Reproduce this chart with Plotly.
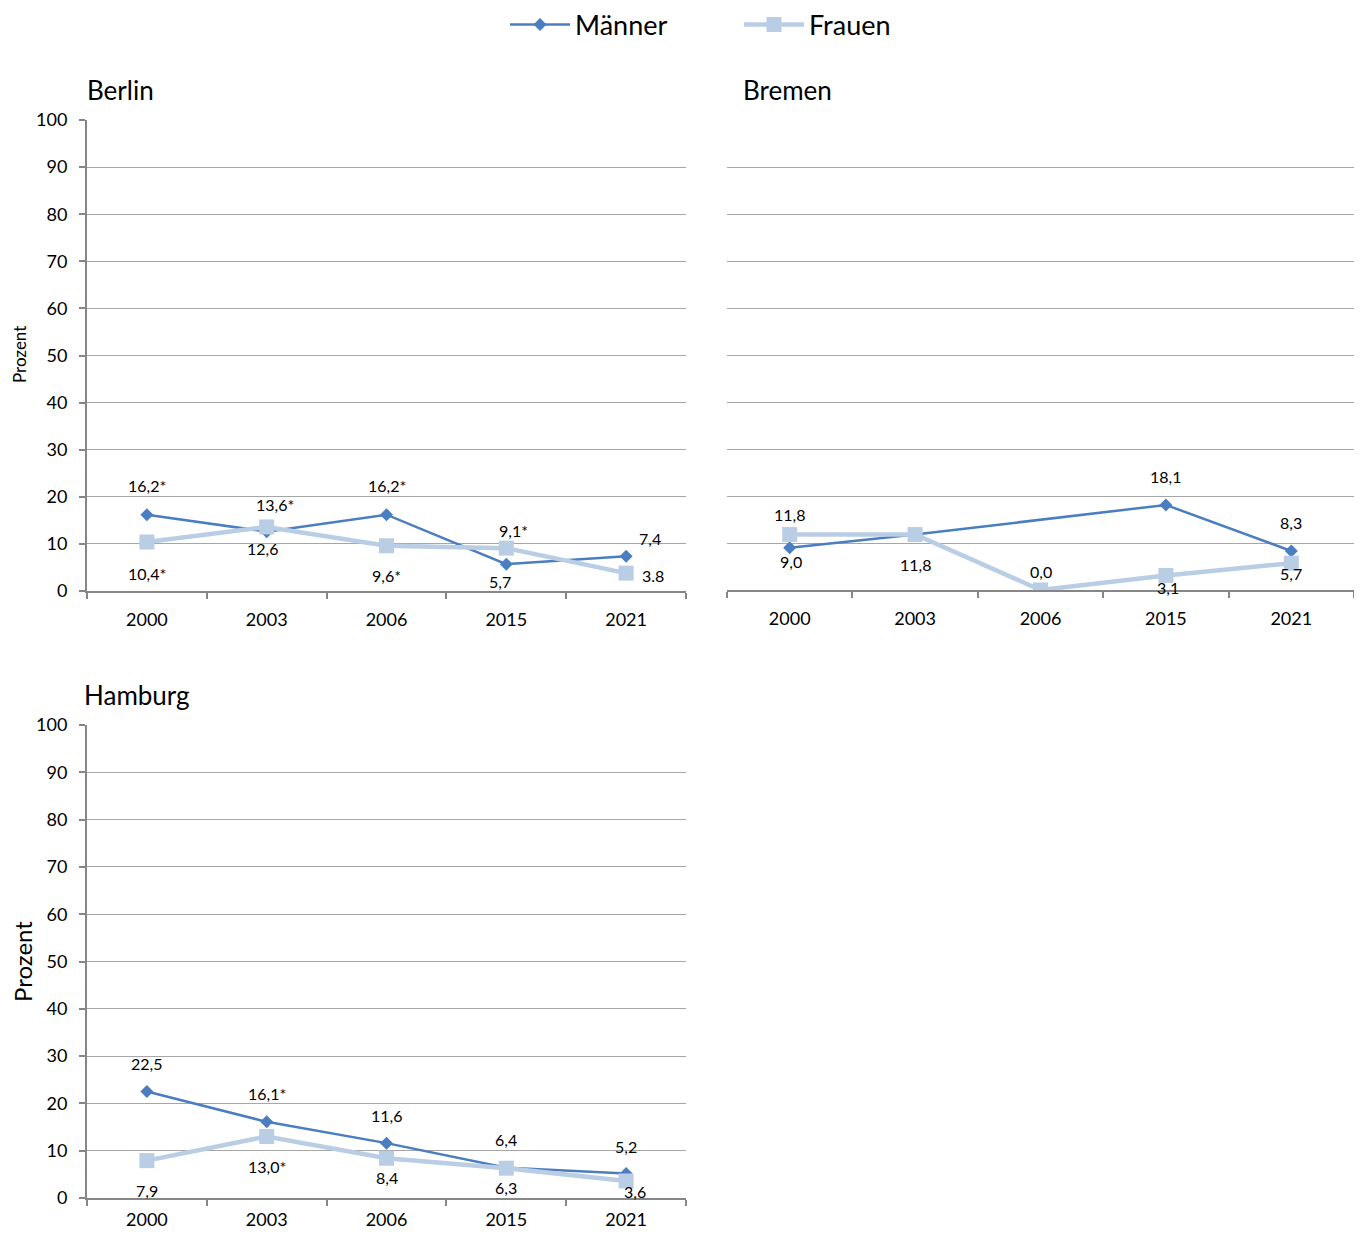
import plotly.graph_objects as go

years = ["2000", "2003", "2006", "2015", "2021"]

berlin_m = [16.2, 12.6, 16.2, 5.7, 7.4]
berlin_f = [10.4, 13.6, 9.6, 9.1, 3.8]
berlin_m_lbl = ["16,2*", "12,6", "16,2*", "5,7", "7,4"]
berlin_f_lbl = ["10,4*", "13,6*", "9,6*", "9,1*", "3.8"]

bremen_m = [9.0, 11.8, None, 18.1, 8.3]
bremen_f = [11.8, 11.8, 0.0, 3.1, 5.7]
bremen_m_lbl = ["9,0", "11,8", "", "18,1", "8,3"]
bremen_f_lbl = ["11,8", "", "0,0", "3,1", "5,7"]

hamburg_m = [22.5, 16.1, 11.6, 6.4, 5.2]
hamburg_f = [7.9, 13.0, 8.4, 6.3, 3.6]
hamburg_m_lbl = ["22,5", "16,1*", "11,6", "6,4", "5,2"]
hamburg_f_lbl = ["7,9", "13,0*", "8,4", "6,3", "3,6"]

# label offsets (dx, dy in px; dy positive = down)
berlin_m_off = [(0, -29), (-4, 17), (0, -29), (-6, 17), (24, -18)]
berlin_f_off = [(0, 31), (8, -22), (0, 30), (7, -18), (27, 2)]
bremen_m_off = [(1, 14), (0, 30), (0, 0), (0, -28), (0, -28)]
bremen_f_off = [(0, -20), (0, 30), (0, -19), (2, 12), (0, 10)]
hamburg_m_off = [(0, -28), (0, -28), (0, -28), (0, -28), (0, -27)]
hamburg_f_off = [(0, 30), (0, 30), (0, 19), (0, 19), (9, 11)]

C_M = "rgb(74,126,193)"
C_F = "rgb(185,205,229)"
FONT = "Lato"
W, H = 1346, 1220
OFFX, OFFY = 8, 8  # where the figure sits in the page

def px_x(p):
    return min(1.0, max(0.0, (p - OFFX) / W))

def px_y(p):
    return min(1.0, max(0.0, 1 - (p - OFFY) / H))

fig = go.Figure()

panels = [
    ("x", "y", berlin_m, berlin_f, berlin_m_lbl, berlin_f_lbl, berlin_m_off, berlin_f_off, True),
    ("x2", "y2", bremen_m, bremen_f, bremen_m_lbl, bremen_f_lbl, bremen_m_off, bremen_f_off, False),
    ("x3", "y3", hamburg_m, hamburg_f, hamburg_m_lbl, hamburg_f_lbl, hamburg_m_off, hamburg_f_off, False),
]

annotations = []
for i, (xa, ya, m, f, ml, fl, mo, fo, showleg) in enumerate(panels):
    fig.add_trace(go.Scatter(
        x=years, y=m, xaxis=xa, yaxis=ya, name="Männer", mode="lines+markers",
        connectgaps=True, line=dict(color=C_M, width=2.5),
        marker=dict(symbol="diamond", size=10, color=C_M),
        showlegend=showleg, legendrank=1))
    fig.add_trace(go.Scatter(
        x=years, y=f, xaxis=xa, yaxis=ya, name="Frauen", mode="lines+markers",
        line=dict(color=C_F, width=4.5),
        marker=dict(symbol="square", size=15, color=C_F),
        showlegend=showleg, legendrank=2))
    for vals, lbls, offs in ((m, ml, mo), (f, fl, fo)):
        for idx, (v, t, (dx, dy)) in enumerate(zip(vals, lbls, offs)):
            if v is None or t == "":
                continue
            annotations.append(dict(
                x=idx, y=v, xref=xa, yref=ya, text=t, showarrow=False,
                xshift=dx, yshift=-dy, font=dict(family=FONT, size=16, color="black")))

# titles
for txt, x, y in (("Berlin", 85, 90), ("Bremen", 741, 90), ("Hamburg", 82, 695)):
    annotations.append(dict(x=px_x(x), y=px_y(y), xref="paper", yref="paper",
                            xanchor="left", yanchor="middle", text=txt, showarrow=False,
                            font=dict(family=FONT, size=26, color="black")))
# y axis titles
annotations.append(dict(x=px_x(19), y=px_y(355), xref="paper", yref="paper", text="Prozent",
                        textangle=-90, showarrow=False, xanchor="center", yanchor="middle",
                        font=dict(family=FONT, size=17, color="black")))
annotations.append(dict(x=px_x(22), y=px_y(962), xref="paper", yref="paper", text="Prozent",
                        textangle=-90, showarrow=False, xanchor="center", yanchor="middle",
                        font=dict(family=FONT, size=24, color="black")))

xcommon = dict(type="category", range=[-0.5, 4.5], autorange=False, automargin=False,
               tickson="boundaries", ticks="outside", ticklen=6,
               tickcolor="#868686", tickwidth=2, showline=True, linecolor="#868686",
               linewidth=2, showgrid=False, zeroline=False,
               tickangle=0,
               tickfont=dict(family=FONT, size=18, color="black"), fixedrange=True)
ycommon = dict(range=[0, 100], autorange=False, automargin=False, dtick=10, showgrid=True,
               gridcolor="#A6A6A6", gridwidth=1,
               zeroline=False, tickfont=dict(family=FONT, size=18, color="black"),
               fixedrange=True)

fig.update_layout(
    width=W, height=H,
    margin=dict(l=0, r=0, t=0, b=0, autoexpand=False),
    plot_bgcolor="white", paper_bgcolor="white",
    font=dict(family=FONT, color="black"),
    showlegend=True,
    legend=dict(orientation="h", x=px_x(505), xanchor="left", y=px_y(25), yanchor="middle",
                font=dict(family=FONT, size=27, color="black"), itemwidth=60,
                entrywidth=159, bgcolor="rgba(0,0,0,0)"),
    xaxis=dict(domain=[px_x(87), px_x(686)], anchor="y", ticklabelstandoff=11, **xcommon),
    yaxis=dict(domain=[px_y(591), px_y(120)], anchor="x", showline=True, linecolor="#868686",
               linewidth=2, ticks="outside", ticklen=6, tickcolor="#868686", tickwidth=2,
               ticklabelstandoff=8, **ycommon),
    xaxis2=dict(domain=[px_x(727), px_x(1354)], anchor="y2", ticklabelstandoff=11, **xcommon),
    yaxis2=dict(domain=[px_y(590), px_y(120)], anchor="x2", showline=False,
                showticklabels=False, ticks="", **ycommon),
    xaxis3=dict(domain=[px_x(87), px_x(686)], anchor="y3", ticklabelstandoff=4, **xcommon),
    yaxis3=dict(domain=[px_y(1198), px_y(725)], anchor="x3", showline=True, linecolor="#868686",
                linewidth=2, ticks="outside", ticklen=6, tickcolor="#868686", tickwidth=2,
                ticklabelstandoff=8, **ycommon),
    annotations=annotations,
)

fig.write_html("out.html")
